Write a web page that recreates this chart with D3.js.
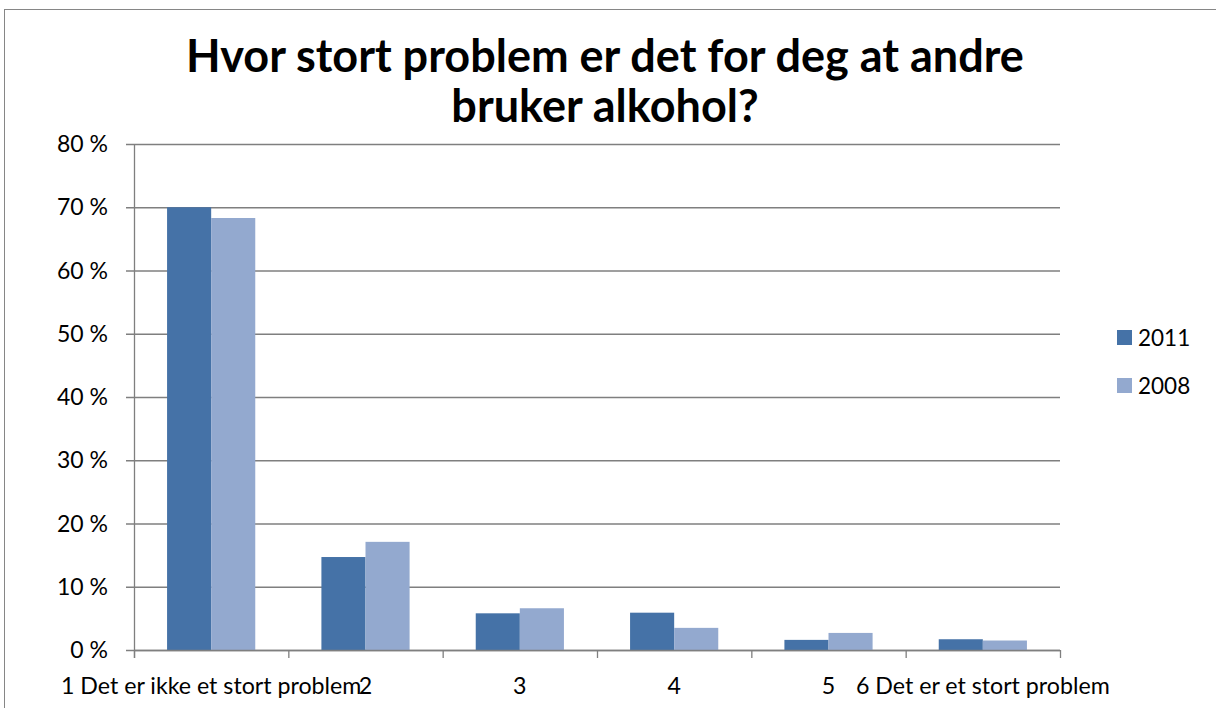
<!DOCTYPE html>
<html>
<head>
<meta charset="utf-8">
<script src="https://cdn.jsdelivr.net/npm/d3@7"></script>
<style>
  body { margin: 0; background: #fff; }
  svg text { font-family: Lato, "Open Sans", sans-serif; fill: #000; }
</style>
</head>
<body>
<svg id="chart" width="1216" height="708"></svg>
<script>
var categories = ['1 Det er ikke et stort problem', '2', '3', '4', '5', '6 Det er et stort problem'];
var seriesNames = ['2011', '2008'];
var values2011 = [70.0, 14.7, 5.8, 5.9, 1.6, 1.7];
var values2008 = [68.3, 17.1, 6.6, 3.5, 2.7, 1.5];
var yTicks = [0, 10, 20, 30, 40, 50, 60, 70, 80];
var colors = ['#4572a7', '#93a9cf'];

var svg = d3.select('#chart');
var plotLeft = 134, plotRight = 1060, plotTop = 144, plotBottom = 650;

// outer frame
svg.append('rect')
  .attr('x', 4.5).attr('y', 9.5).attr('width', 1300).attr('height', 800)
  .attr('fill', 'none').attr('stroke', '#868686');

svg.append('text')
  .attr('text-anchor', 'middle').attr('font-weight', 'bold').attr('font-size', 45)
  .selectAll('tspan').data(['Hvor stort problem er det for deg at andre', 'bruker alkohol?'])
  .enter().append('tspan')
    .attr('x', 605).attr('y', function(d, i) { return 72 + i * 50; })
    .text(function(d) { return d; });

var x = d3.scaleBand().domain(categories).range([plotLeft, plotRight]).paddingInner(0).paddingOuter(0);
var y = d3.scaleLinear().domain([0, 80]).range([plotBottom, plotTop]);
var inner = d3.scaleBand().domain(seriesNames).range([0, x.bandwidth()]).paddingOuter(0.75);

// grid
svg.append('g').selectAll('line').data(yTicks).enter().append('line')
  .attr('x1', plotLeft - 8).attr('x2', plotRight)
  .attr('y1', function(d) { return y(d) + 0.5; })
  .attr('y2', function(d) { return y(d) + 0.5; })
  .attr('stroke', '#7f7f7f').attr('stroke-width', 1.3);

svg.append('g').selectAll('text').data(yTicks).enter().append('text')
  .attr('x', 108).attr('y', function(d) { return y(d) + 8; })
  .attr('text-anchor', 'end').attr('font-size', 23)
  .text(function(d) { return d + ' %'; });

// bars
var rows = categories.map(function(c, i) {
  return { cat: c, vals: [values2011[i], values2008[i]] };
});
var groups = svg.append('g').selectAll('g').data(rows).enter().append('g')
  .attr('transform', function(d) { return 'translate(' + x(d.cat) + ',0)'; });

groups.selectAll('rect').data(function(d) { return d.vals; }).enter().append('rect')
  .attr('x', function(d, i) { return inner(seriesNames[i]); })
  .attr('width', inner.bandwidth())
  .attr('y', function(d) { return y(d); })
  .attr('height', function(d) { return plotBottom - y(d); })
  .attr('fill', function(d, i) { return colors[i]; });

// axis lines
svg.append('line').attr('x1', plotLeft + 0.5).attr('x2', plotLeft + 0.5).attr('y1', plotTop).attr('y2', plotBottom + 8)
  .attr('stroke', '#7f7f7f').attr('stroke-width', 1.3);
svg.append('line').attr('x1', plotLeft).attr('x2', plotRight).attr('y1', plotBottom + 0.5).attr('y2', plotBottom + 0.5)
  .attr('stroke', '#7f7f7f').attr('stroke-width', 1.3);
var tickXs = categories.map(function(c) { return x(c); }).concat([plotRight]);
svg.append('g').selectAll('line').data(tickXs).enter().append('line')
  .attr('x1', function(d) { return d + 0.5; }).attr('x2', function(d) { return d + 0.5; })
  .attr('y1', plotBottom).attr('y2', plotBottom + 8)
  .attr('stroke', '#7f7f7f').attr('stroke-width', 1.3);

svg.append('g').selectAll('text').data(categories).enter().append('text')
  .attr('x', function(d) { return x(d) + x.bandwidth() / 2; })
  .attr('y', 694).attr('text-anchor', 'middle').attr('font-size', 23.2)
  .text(function(d) { return d; });

// legend
var legend = svg.append('g').selectAll('g').data(seriesNames).enter().append('g')
  .attr('transform', function(d, i) { return 'translate(1117,' + (330 + i * 48) + ')'; });
legend.append('rect').attr('width', 15).attr('height', 15)
  .attr('fill', function(d, i) { return colors[i]; });
legend.append('text').attr('x', 21).attr('y', 16).attr('font-size', 22.5)
  .text(function(d) { return d; });
</script>
</body>
</html>
